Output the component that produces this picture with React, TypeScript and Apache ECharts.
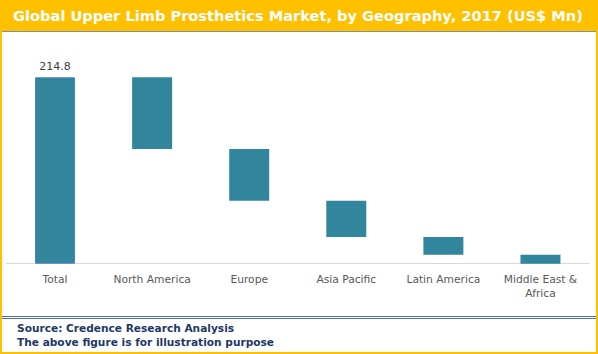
import React, { useEffect, useRef } from "react";
import * as echarts from "echarts";

const categories = ["Total", "North America", "Europe", "Asia Pacific", "Latin America", "Middle East &\nAfrica"];
const totalValue = 214.8;
const regionValues = [82.6, 59.6, 41.8, 20.4, 10.4];
const titleText = "Global Upper Limb Prosthetics Market, by Geography, 2017 (US$ Mn)";
const sourceLines = ["Source: Credence Research Analysis", "The above figure is for illustration purpose"];

export default function App() {
  const ref = useRef<HTMLDivElement>(null);
  useEffect(() => {
    if (!ref.current) return;
    const chart = echarts.init(ref.current, undefined, { renderer: "svg" });
    const visible = [totalValue, ...regionValues];
    const base: number[] = [0];
    let remaining = totalValue;
    regionValues.forEach((v) => {
      remaining -= v;
      base.push(Math.max(0, Math.round(remaining * 10) / 10));
    });
    chart.setOption({
      animation: false,
      backgroundColor: "#ffffff",
      grid: { left: 6.5, right: 9, top: 77.3, bottom: 90.3, containLabel: false },
      xAxis: {
        type: "category",
        data: categories,
        axisLine: { lineStyle: { color: "#D9D9D9", width: 1 } },
        axisTick: { show: false },
        axisLabel: {
          color: "#595959",
          fontFamily: "DejaVu Sans",
          fontSize: 10.7,
          margin: 9,
          lineHeight: 14,
          interval: 0,
        },
      },
      yAxis: { type: "value", min: 0, max: totalValue, show: false, splitLine: { show: false } },
      series: [
        {
          type: "bar",
          stack: "w",
          data: base,
          barWidth: 40,
          itemStyle: { color: "transparent" },
          silent: true,
        },
        {
          type: "bar",
          stack: "w",
          barWidth: 40,
          data: visible.map((v, i) =>
            i === 0
              ? { value: v, itemStyle: { color: "#31859C", borderColor: "#4F81BD", borderWidth: 1 }, label: { show: true } }
              : { value: v }
          ),
          itemStyle: { color: "#31859C" },
          label: {
            show: false,
            position: "top",
            color: "#404040",
            fontFamily: "DejaVu Sans",
            fontSize: 11,
            distance: 5,
            formatter: (p: any) => String(p.value),
          },
        },
      ],
      graphic: [
        { type: "rect", shape: { x: 0, y: 0, width: 598, height: 31 }, style: { fill: "#FFC000" }, silent: true },
        {
          type: "text",
          x: 298,
          y: 15.5,
          style: {
            text: titleText,
            fill: "#ffffff",
            font: "bold 14.6px 'DejaVu Sans'",
            align: "center",
            verticalAlign: "middle",
          },
        },
        { type: "line", shape: { x1: 1, y1: 31.5, x2: 597, y2: 31.5 }, style: { stroke: "#7F8FA6", lineWidth: 1 } },
        { type: "line", shape: { x1: 1, y1: 316.5, x2: 597, y2: 316.5 }, style: { stroke: "#4F6E99", lineWidth: 1 } },
        { type: "line", shape: { x1: 1, y1: 318.5, x2: 597, y2: 318.5 }, style: { stroke: "#4F6E99", lineWidth: 1 } },
        {
          type: "text",
          x: 17,
          y: 328,
          style: { text: sourceLines[0], fill: "#1F3864", font: "bold 10.6px 'DejaVu Sans'", verticalAlign: "middle" },
        },
        {
          type: "text",
          x: 17,
          y: 342,
          style: { text: sourceLines[1], fill: "#1F3864", font: "bold 10.6px 'DejaVu Sans'", verticalAlign: "middle" },
        },
        { type: "rect", shape: { x: 1, y: 1, width: 596, height: 352 }, style: { fill: "none", stroke: "#FFC000", lineWidth: 2 }, silent: true },
      ],
    });
    return () => chart.dispose();
  }, []);
  return <div ref={ref} style={{ position: "fixed", left: 0, top: 0, width: 598, height: 354 }} />;
}
